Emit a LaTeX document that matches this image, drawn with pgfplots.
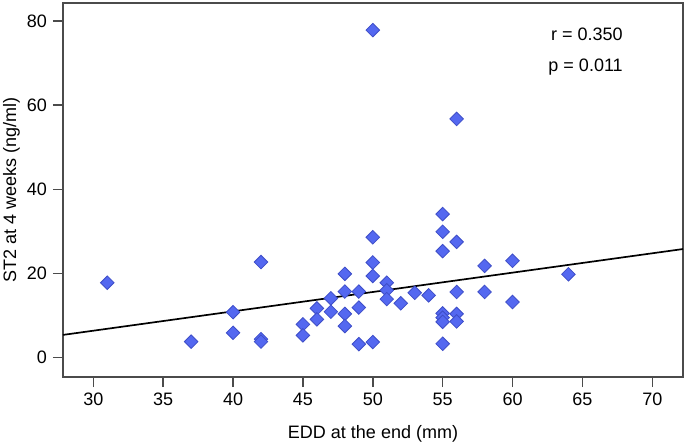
\documentclass[border=0pt]{standalone}
\usepackage{pgfplots}
\pgfplotsset{compat=1.18}
\usepackage{fontspec}
\setmainfont{Liberation Sans}
\usetikzlibrary{calc}
\definecolor{dotfill}{RGB}{84,104,240}
\definecolor{dotedge}{RGB}{62,78,200}
\definecolor{axisgray}{RGB}{75,75,75}

\pgfplotstableread{
x y
31 17.8
37 3.8
40 10.8
40 5.9
42 22.7
42 4.4
42 3.8
45 7.9
45 5.3
46 11.7
46 9.1
47 14.1
47 10.9
48 19.9
48 15.7
48 10.4
48 7.5
49 15.7
49 11.9
49 3.2
50 77.8
50 28.6
50 22.6
50 19.4
50 3.7
51 17.8
51 16.0
51 13.9
52 12.9
53 15.4
54 14.8
55 34.1
55 29.9
55 25.3
55 10.5
55 9.5
55 8.5
55 3.3
56 56.7
56 27.5
56 15.6
56 10.4
56 8.6
58 21.8
58 15.6
60 23.0
60 13.2
64 19.8
}\edd

\begin{document}
\fontsize{18bp}{21bp}\selectfont
\begin{tikzpicture}
\begin{axis}[
  scale only axis,
  width=620bp, height=374bp,
  xmin=27.83, xmax=72.2,
  ymin=-4.6, ymax=84.25,
  xtick={30,35,...,70},
  ytick={0,20,...,80},
  axis line style={axisgray, line width=1.5pt},
  tick style={axisgray, line width=1.5pt},
  tick align=outside,
  major tick length=10bp,
  xtick pos=bottom, ytick pos=left,
  tick label style={font=\fontsize{18bp}{21bp}\selectfont},
  label style={font=\fontsize{19bp}{22bp}\selectfont},
  /pgf/number format/assume math mode=true,
  xlabel={EDD at the end (mm)},
  ylabel={ST2 at 4 weeks (ng/ml)},
  every axis x label/.style={at={(axis description cs:0.5,0)}, anchor=south, inner sep=0pt, yshift=-65bp},
  every axis y label/.style={at={(axis description cs:0,0.5)}, anchor=north, rotate=90, inner sep=0pt, yshift=60bp},
  clip=false,
]
\addplot[black, line width=1.7pt] coordinates {(27.83,5.4) (72.2,25.8)};
\addplot[only marks, mark=square*, mark size=4.8bp,
  mark options={rotate=45, fill=dotfill, draw=dotedge, line width=0.8pt}] table[x=x,y=y]{\edd};
\node[anchor=east, inner sep=0pt, font=\fontsize{18bp}{21bp}\selectfont] at (axis cs:67.9,76.7) {r = 0.350};
\node[anchor=east, inner sep=0pt, font=\fontsize{18bp}{21bp}\selectfont] at (axis cs:67.9,69.0) {p = 0.011};
\end{axis}
\pgfresetboundingbox
\path ($(current axis.south west)+(-63bp,-66bp)$) rectangle ($(current axis.north east)+(2bp,3bp)$);
\end{tikzpicture}
\end{document}
